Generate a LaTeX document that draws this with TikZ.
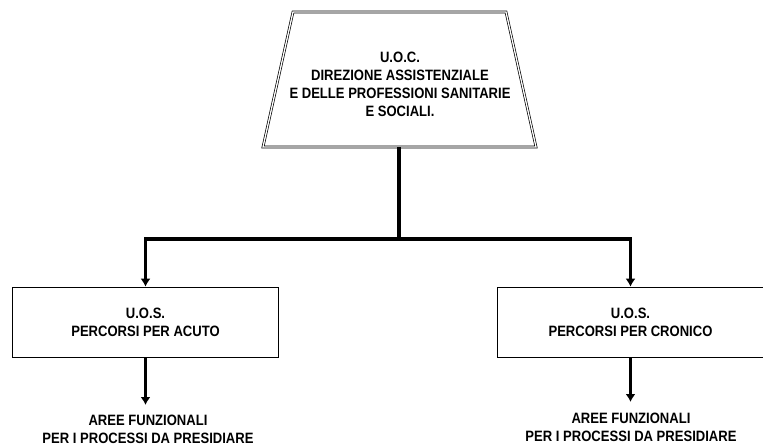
\documentclass[tikz,border=0pt]{standalone}
\usepackage{fontspec}
\setmainfont{Liberation Sans}[FakeStretch=0.87]
\usetikzlibrary{arrows.meta,positioning}
\begin{document}
\begin{tikzpicture}[x=1pt, y=-1pt, line join=miter, font=\fontsize{15}{18}\selectfont\bfseries,
  boss/.style={double, double distance=1.3pt, line width=0.7pt},
  unit/.style={draw, line width=0.6pt, minimum width=266pt, minimum height=70pt, align=center},
  area/.style={align=center, inner sep=0pt},
  conn/.style={line width=3.2pt, -{Latex[length=8pt,width=10pt]}}]
\useasboundingbox (0,0) rectangle (763,445);
% Head office (trapezoid)
\coordinate (tl) at (293,12);
\coordinate (tr) at (506,12);
\coordinate (br) at (536,147);
\coordinate (bl) at (263,147);
\coordinate (uocbase) at (399,147);
\draw[boss] (tl) -- (tr) -- (br) -- (bl) -- cycle;
\node[area] (uoc) at (400,84.5) {U.O.C.\\DIREZIONE ASSISTENZIALE\\E DELLE PROFESSIONI SANITARIE\\E SOCIALI.};
% Bus line
\coordinate (bus) at (399,239);
% Simple units
\node[unit] (acuto) at (145.5,322) {U.O.S.\\PERCORSI PER ACUTO};
\node[unit] (cronico) at (630.5,322) {U.O.S.\\PERCORSI PER CRONICO};
% Functional areas
\node[area] (areaA) at (148,429) {AREE FUNZIONALI\\PER I PROCESSI DA PRESIDIARE};
\node[area] (areaC) at (631,427) {AREE FUNZIONALI\\PER I PROCESSI DA PRESIDIARE};
% Connectors
\draw[conn] (uocbase) -- (bus) -| (acuto.north);
\draw[conn] (uocbase) -- (bus) -| (cronico.north);
\draw[conn] (acuto.south) -- (acuto.south |- 0,405);
\draw[conn] (cronico.south) -- (cronico.south |- 0,402);
\end{tikzpicture}
\end{document}
